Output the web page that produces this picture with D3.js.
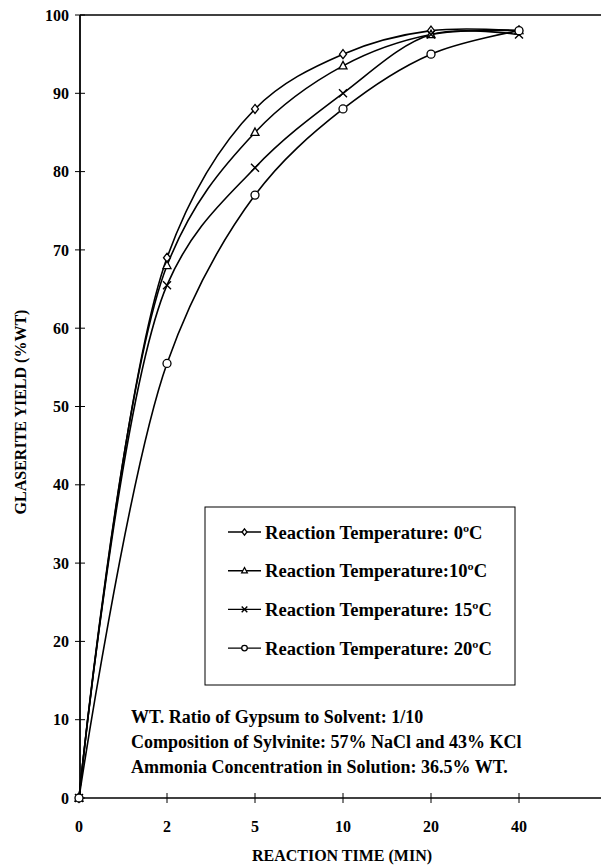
<!DOCTYPE html>
<html><head><meta charset="utf-8">
<script src="https://cdn.jsdelivr.net/npm/d3@7"></script>
<style>
body{margin:0;background:#fff;}
svg{display:block;}
</style></head>
<body><svg id="c" width="601" height="865"></svg>
<script>
const categories = ["0","2","5","10","20","40"];
const yTicks = [0,10,20,30,40,50,60,70,80,90,100];
const seriesNames = ["Reaction Temperature: 0\u00BAC","Reaction Temperature:10\u00BAC","Reaction Temperature: 15\u00BAC","Reaction Temperature: 20\u00BAC"];
const symbols = ["diamond","triangle","cross","circle"];
const t0 = [0, 69, 88, 95, 98, 98];
const t10 = [0, 68, 85, 93.5, 97.5, 98];
const t15 = [0, 65.5, 80.5, 90, 97.5, 97.5];
const t20 = [0, 55.5, 77, 88, 95, 98];
const notes = ["WT. Ratio of Gypsum to Solvent: 1/10","Composition of Sylvinite: 57% NaCl and 43% KCl","Ammonia Concentration in Solution: 36.5% WT."];

const FONT = "'Liberation Serif','Times New Roman','DejaVu Serif',serif";
const series = [t0,t10,t15,t20];
const svg = d3.select("#c").attr("font-family",FONT).attr("font-weight","bold");
const x = d3.scalePoint().domain(categories).range([79,519]);
const y = d3.scaleLinear().domain([0,100]).range([798,15]);

svg.append("line").attr("x1",80).attr("x2",601).attr("y1",y(100)).attr("y2",y(100)).attr("stroke","#000").attr("stroke-width",1.6);
svg.append("line").attr("x1",80).attr("x2",601).attr("y1",y(0)).attr("y2",y(0)).attr("stroke","#000").attr("stroke-width",1.6);
svg.append("line").attr("x1",80).attr("x2",80).attr("y1",y(100)).attr("y2",y(0)).attr("stroke","#000").attr("stroke-width",1.8);

function txt(g){return g.append("text").attr("font-family",FONT).attr("font-weight","bold").attr("fill","#000");}

const yAx = svg.append("g");
yTicks.forEach(v=>{
  yAx.append("line").attr("x1",75).attr("x2",85).attr("y1",y(v)).attr("y2",y(v)).attr("stroke","#000").attr("stroke-width",1);
  txt(yAx).attr("x",69).attr("y",y(v)).attr("dy","0.35em").attr("text-anchor","end").attr("font-size",16).text(v);
});
categories.forEach(c=>{
  if(c!=="0") svg.append("line").attr("x1",x(c)).attr("x2",x(c)).attr("y1",y(0)-5).attr("y2",y(0)+5).attr("stroke","#000").attr("stroke-width",1);
  txt(svg).attr("x",x(c)).attr("y",832).attr("text-anchor","middle").attr("font-size",16).text(c);
});

txt(svg).attr("x",342).attr("y",861).attr("text-anchor","middle").attr("font-size",16).text("REACTION TIME (MIN)");
txt(svg).attr("transform","translate(26,412) rotate(-90)").attr("text-anchor","middle").attr("font-size",16).text("GLASERITE YIELD (%WT)");

const line = d3.line().x((d,i)=>x(categories[i])).y(d=>y(d)).curve(d3.curveCatmullRom.alpha(0.5));
series.forEach(s=>{
  svg.append("path").attr("d",line(s)).attr("fill","none").attr("stroke","#000").attr("stroke-width",1.6);
});

function drawSym(g,type,cx,cy,k){
  k = k||1;
  if(type==="diamond"){
    g.append("path").attr("d",`M${cx},${cy-4.5*k}L${cx+3.5*k},${cy}L${cx},${cy+4.5*k}L${cx-3.5*k},${cy}Z`).attr("fill","#fff").attr("stroke","#000").attr("stroke-width",1.3);
  } else if(type==="triangle"){
    g.append("path").attr("d",`M${cx},${cy-4.5*k}L${cx+4*k},${cy+3*k}L${cx-4*k},${cy+3*k}Z`).attr("fill","#fff").attr("stroke","#000").attr("stroke-width",1.3);
  } else if(type==="cross"){
    g.append("path").attr("d",`M${cx-4*k},${cy-4*k}L${cx+4*k},${cy+4*k}M${cx-4*k},${cy+4*k}L${cx+4*k},${cy-4*k}`).attr("stroke","#000").attr("stroke-width",1.4);
  } else {
    g.append("circle").attr("cx",cx).attr("cy",cy).attr("r",4*k).attr("fill","#fff").attr("stroke","#000").attr("stroke-width",1.3);
  }
}
const mk = svg.append("g");
series.forEach((s,k)=>{
  s.forEach((v,i)=>drawSym(mk,symbols[k],x(categories[i]),y(v)));
});

const lg = svg.append("g");
lg.append("rect").attr("x",205).attr("y",507).attr("width",310).attr("height",178).attr("fill","#fff").attr("stroke","#000").attr("stroke-width",1);
seriesNames.forEach((n,k)=>{
  const ly = 532 + k*38.7;
  lg.append("line").attr("x1",228).attr("x2",261).attr("y1",ly).attr("y2",ly).attr("stroke","#000").attr("stroke-width",1.4);
  drawSym(lg,symbols[k],244.5,ly,0.7);
  txt(lg).attr("x",265).attr("y",ly).attr("dy","0.35em").attr("font-size",18.6).text(n);
});

notes.forEach((t,i)=>{
  txt(svg).attr("x",131).attr("y",717+i*25).attr("dy","0.35em").attr("font-size",18).text(t);
});
</script></body></html>
